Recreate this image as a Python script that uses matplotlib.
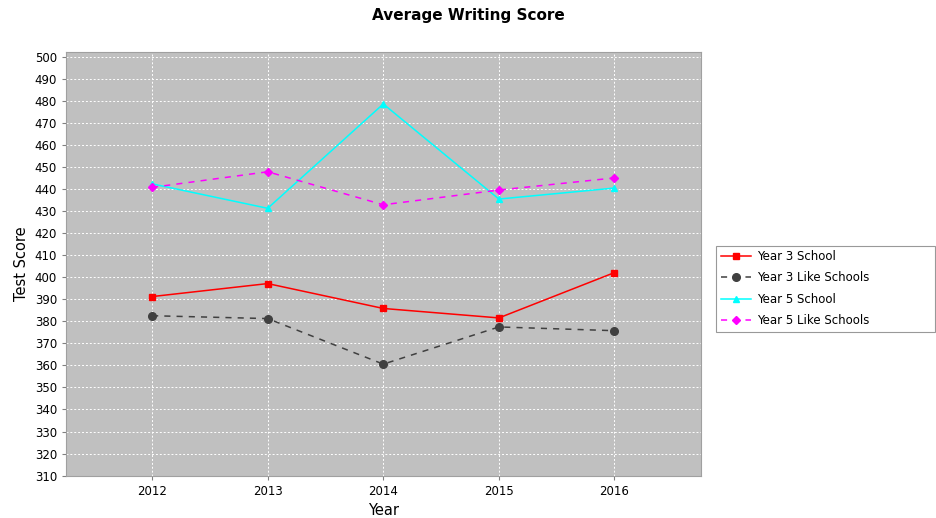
import numpy as np
import matplotlib
matplotlib.use("Agg")
from matplotlib import pyplot as plt

years = ["2012", "2013", "2014", "2015", "2016"]
year3_school = [391.3, 397.2, 385.9, 381.6, 402.2]
year3_like = [382.6, 381.3, 360.6, 377.5, 375.8]
year5_school = [442.5, 431.4, 478.8, 435.6, 440.6]
year5_like = [440.9, 448.0, 433.0, 439.7, 445.2]

fig = plt.figure(figsize=(9.36, 5.18), dpi=100)
ax = fig.add_axes([0.0705, 0.082, 0.678, 0.818])
ax.set_facecolor("#c0c0c0")

x = np.arange(len(years))
ax.plot(x, year3_school, color="#ff0000", lw=1.1, marker="s", ms=5,
        label="Year 3 School")
ax.plot(x, year3_like, color="#404040", lw=1.1, ls=(0, (4, 4)), marker="o", ms=5.5,
        label="Year 3 Like Schools")
ax.plot(x, year5_school, color="#00ffff", lw=1.1, marker="^", ms=5,
        label="Year 5 School")
ax.plot(x, year5_like, color="#ff00ff", lw=1.1, ls=(0, (4, 4)), marker="D", ms=4.5,
        label="Year 5 Like Schools")

ax.set_xlim(-0.745, 4.745)
ax.set_ylim(310, 502.5)
ax.set_xticks(x)
ax.set_xticklabels(years)
ax.set_yticks(np.arange(310, 501, 10))
ax.tick_params(labelsize=8.5, length=3, color="#808080")
ax.grid(True, color="white", ls=(0, (2, 2)), lw=0.7)
ax.set_axisbelow(True)
for s in ax.spines.values():
    s.set_color("#a0a0a0")
    s.set_linewidth(0.8)

ax.set_xlabel("Year", fontsize=10.5)
ax.set_ylabel("Test Score", fontsize=10.5)
fig.suptitle("Average Writing Score", fontsize=11, fontweight="bold", y=0.985)

leg = ax.legend(loc="upper left", bbox_to_anchor=(1.025, 0.339, 0.344, 0.203),
                mode="expand", fontsize=8.5, frameon=True, fancybox=False,
                edgecolor="#808080", handlelength=2.6, handletextpad=0.5,
                borderpad=0.35, labelspacing=0.72, borderaxespad=0)
leg.get_frame().set_linewidth(0.8)

fig.savefig("out.png", dpi=100)
